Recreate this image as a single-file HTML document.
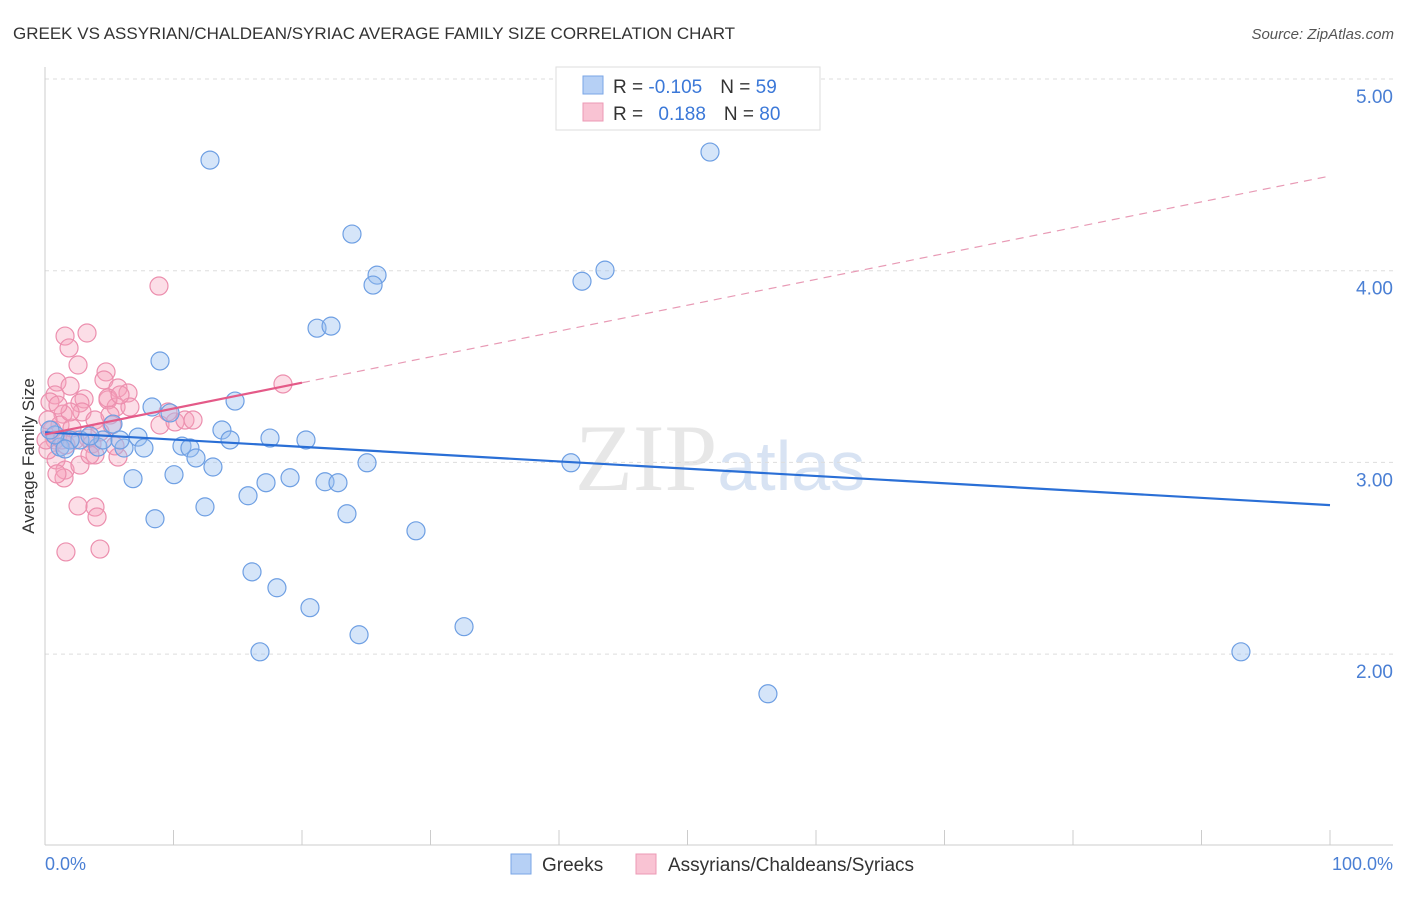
<!DOCTYPE html>
<html><head><meta charset="utf-8"><style>
body{margin:0;background:#fff;font-family:"Liberation Sans",sans-serif;}
</style></head><body>
<svg width="1406" height="892" xmlns="http://www.w3.org/2000/svg" font-family="Liberation Sans, sans-serif">
<text x="13" y="39" font-size="17" fill="#333">GREEK VS ASSYRIAN/CHALDEAN/SYRIAC AVERAGE FAMILY SIZE CORRELATION CHART</text>
<text x="1394" y="39" font-size="15" fill="#555" text-anchor="end" font-style="italic">Source: ZipAtlas.com</text>
<text x="720" y="490" font-size="95" fill="#ddd" text-anchor="middle" font-family="Liberation Serif, serif" opacity="0.7">ZIP<tspan fill="#c8d8ee" font-family="Liberation Sans, sans-serif" font-size="70">atlas</tspan></text>
<g id="grid"></g>
<line x1="45" y1="67" x2="45" y2="845" stroke="#ccc"/>
<line x1="45" y1="845" x2="1393" y2="845" stroke="#ccc"/>
<g id="xticks"></g>
<text transform="translate(34,456) rotate(-90)" font-size="17" fill="#333" text-anchor="middle">Average Family Size</text>
<text x="45" y="870" font-size="18" fill="#4a7fd4">0.0%</text>
<text x="1393" y="870" font-size="18" fill="#4a7fd4" text-anchor="end">100.0%</text>
<g id="pts"></g>
<g id="trends"></g>
<g>
<rect x="556" y="67" width="264" height="63" fill="#fff" stroke="#ddd"/>
<rect x="583" y="76" width="20" height="18" fill="#b6d0f5" stroke="#7aa6e6"/>
<rect x="583" y="103" width="20" height="18" fill="#f9c3d3" stroke="#ec9ab4"/>
<text x="613" y="93" font-size="19" fill="#333">R = <tspan fill="#3b78d8">-0.105</tspan><tspan dx="18">N = </tspan><tspan fill="#3b78d8">59</tspan></text>
<text x="613" y="120" font-size="19" fill="#333">R = <tspan fill="#3b78d8" dx="10">0.188</tspan><tspan dx="18">N = </tspan><tspan fill="#3b78d8">80</tspan></text>
</g>
<g>
<rect x="511" y="854" width="20" height="20" fill="#b6d0f5" stroke="#7aa6e6"/>
<text x="542" y="871" font-size="19" fill="#333">Greeks</text>
<rect x="636" y="854" width="20" height="20" fill="#f9c3d3" stroke="#ec9ab4"/>
<text x="668" y="871" font-size="19" fill="#333">Assyrians/Chaldeans/Syriacs</text>
</g>
</svg>
<script>
const yTicks=[2,3,4,5];
const yTickLabels=["2.00","3.00","4.00","5.00"];
const blueX=[12.84,51.75,23.89,25.84,25.53,43.58,41.79,21.17,22.26,8.95,14.79,8.33,9.73,13.77,14.40,7.24,5.29,17.51,20.31,10.66,11.28,11.75,13.07,7.70,6.15,4.12,4.51,2.72,1.17,25.06,40.93,6.85,10.04,17.20,19.07,21.79,22.80,15.80,12.45,8.56,23.50,28.87,16.11,18.05,20.62,24.44,32.61,16.73,93.07,56.26,3.50,1.95,0.78,0.39,5.84,1.56];
const blueY=[4.577,4.619,4.191,3.977,3.925,4.003,3.945,3.700,3.711,3.529,3.320,3.289,3.258,3.169,3.117,3.132,3.200,3.127,3.117,3.085,3.075,3.023,2.976,3.075,3.075,3.080,3.117,3.117,3.080,2.998,2.998,2.915,2.936,2.894,2.920,2.899,2.894,2.826,2.768,2.706,2.732,2.643,2.429,2.346,2.242,2.101,2.143,2.012,2.012,1.793,3.138,3.117,3.143,3.169,3.117,3.070];
const pinkX=[8.87,1.56,3.27,1.87,2.57,4.75,4.59,5.68,0.93,1.95,6.46,3.04,4.90,5.53,6.61,0.78,0.39,1.40,2.72,2.88,3.89,5.06,1.17,2.10,4.28,3.35,2.33,3.66,0.54,0.78,1.63,0.23,0.86,1.56,2.72,3.89,5.68,8.95,10.12,10.89,11.52,9.57,5.45,1.48,0.93,2.57,3.89,4.05,1.63,4.28,18.52,4.90,5.84,5.21,0.23,1.32,1.95,3.50,0.08,1.01];
const pinkY=[3.920,3.659,3.675,3.597,3.508,3.472,3.430,3.388,3.419,3.398,3.362,3.331,3.326,3.289,3.289,3.352,3.315,3.252,3.310,3.263,3.221,3.247,3.195,3.179,3.159,3.127,3.117,3.096,3.169,3.117,3.091,3.221,3.013,2.960,2.986,3.039,3.028,3.195,3.211,3.221,3.221,3.263,3.086,2.919,2.940,2.773,2.767,2.715,2.533,2.548,3.409,3.336,3.352,3.195,3.065,3.117,3.263,3.039,3.117,3.299];
const blueTrend=[3.157,2.777];
const pinkTrend=[3.146,4.494];
const pinkSolidEnd=20;
const NS="http://www.w3.org/2000/svg";
const sx=v=>45+v*12.85;
const sy=v=>79+(5-v)*191.7;
function mk(t,a,p){const e=document.createElementNS(NS,t);for(const k in a)e.setAttribute(k,a[k]);p.appendChild(e);return e;}
const grid=document.getElementById('grid');
yTicks.forEach((t,i)=>{
 const l=mk('line',{x1:45,x2:1393,y1:sy(t),y2:sy(t),stroke:'#ddd','stroke-dasharray':'4,4'},grid);
 
 
 const tx=mk('text',{x:1393,y:sy(t)+24,'font-size':19,fill:'#4a7fd4','text-anchor':'end'},grid);
 tx.textContent=yTickLabels[i];
 
 
});
const xt=document.getElementById('xticks');
for(let i=1;i<=10;i++){
 const l=mk('line',{x1:sx(i*10),x2:sx(i*10),y1:830,y2:845,stroke:'#ccc'},xt);
 
 
}
const pts=document.getElementById('pts');
pinkX.forEach((x,i)=>{
 const c=mk('circle',{cx:sx(x),cy:sy(pinkY[i]),r:9,fill:'rgba(246,160,185,0.35)',stroke:'#ec8fae','stroke-width':1.2},pts);
 
 
});
blueX.forEach((x,i)=>{
 const c=mk('circle',{cx:sx(x),cy:sy(blueY[i]),r:9,fill:'rgba(150,190,240,0.4)',stroke:'#6e9fe3','stroke-width':1.2},pts);
 
 
});
const tr=document.getElementById('trends');
const b=mk('line',{x1:sx(0),y1:sy(blueTrend[0]),x2:sx(100),y2:sy(blueTrend[1]),stroke:'#2a6fd6','stroke-width':2.2},tr);


const pm=pinkTrend[0]+(pinkTrend[1]-pinkTrend[0])*pinkSolidEnd/100;
const p1=mk('line',{x1:sx(0),y1:sy(pinkTrend[0]),x2:sx(pinkSolidEnd),y2:sy(pm),stroke:'#e45a88','stroke-width':2.2},tr);


const p2=mk('line',{x1:sx(pinkSolidEnd),y1:sy(pm),x2:sx(100),y2:sy(pinkTrend[1]),stroke:'#e89ab5','stroke-width':1.2,'stroke-dasharray':'8,6'},tr);


</script>
</body></html>
